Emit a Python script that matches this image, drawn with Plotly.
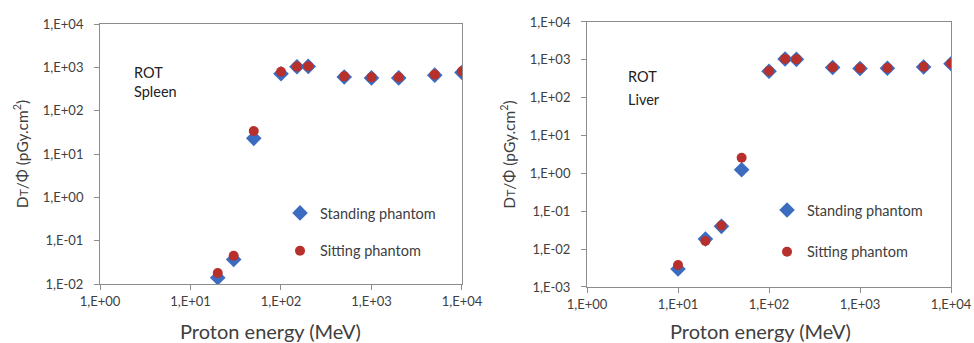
import plotly.graph_objects as go

# Data
energy_spleen = [20, 30, 50, 100, 150, 200, 500, 1000, 2000, 5000, 10000]
spleen_standing = [0.014, 0.037, 23, 710, 1030, 1050, 600, 570, 570, 660, 760]
spleen_sitting = [0.018, 0.045, 34, 790, 1040, 1060, 620, 590, 590, 680, 810]

energy_liver = [10, 20, 30, 50, 100, 150, 200, 500, 1000, 2000, 5000, 10000]
liver_standing = [0.0030, 0.0185, 0.040, 1.25, 500, 1050, 1030, 630, 590, 600, 650, 790]
liver_sitting = [0.0038, 0.0165, 0.042, 2.6, 510, 1060, 1040, 640, 600, 610, 660, 800]

x_tickvals = [1, 10, 100, 1000, 10000]
x_ticktext = ["1,E+00", "1,E+01", "1,E+02", "1,E+03", "1,E+04"]
y_tickvals_l = [0.01, 0.1, 1, 10, 100, 1000, 10000]
y_ticktext_l = ["1,E-02", "1,E-01", "1,E+00", "1,E+01", "1,E+02", "1,E+03", "1,E+04"]
y_tickvals_r = [0.001, 0.01, 0.1, 1, 10, 100, 1000, 10000]
y_ticktext_r = ["1,E-03", "1,E-02", "1,E-01", "1,E+00", "1,E+01", "1,E+02", "1,E+03", "1,E+04"]

BLUE = "#3b6cc0"
RED = "#b8302c"
FONT = "Lato"
TXT = "#404040"

W, H = 974, 343

fig = go.Figure()

def add_pair(x, ys, yt, xa, ya, leg):
    fig.add_trace(go.Scatter(x=x, y=ys, mode="markers", name="Standing phantom",
                             marker=dict(symbol="diamond", size=12, color=BLUE),
                             xaxis=xa, yaxis=ya, legend=leg, legendgroup=leg + "a"))
    fig.add_trace(go.Scatter(x=x, y=yt, mode="markers", name="Sitting phantom",
                             marker=dict(symbol="circle", size=10, color=RED),
                             xaxis=xa, yaxis=ya, legend=leg, legendgroup=leg + "b"))

add_pair(energy_spleen, spleen_standing, spleen_sitting, "x", "y", "legend")
add_pair(energy_liver, liver_standing, liver_sitting, "x2", "y2", "legend2")

axis_common = dict(type="log", showgrid=False, zeroline=False, showline=True,
                   linecolor="#8c8c8c", linewidth=1, mirror=True, automargin=False,
                   ticks="outside", ticklen=5, tickcolor="#8c8c8c",
                   tickfont=dict(family=FONT, size=13, color=TXT))

ytitle = "D<span style='font-size:12px'>T</span>/Φ (pGy.cm<sup>2</sup>)"
xtitle = "Proton energy (MeV)"
xtitle_font = dict(family=FONT, size=20, color=TXT)
ytitle_font = dict(family=FONT, size=15.5, color=TXT)

fig.update_layout(
    width=W, height=H,
    margin=dict(l=0, r=0, t=0, b=0),
    paper_bgcolor="white", plot_bgcolor="white",
    font=dict(family=FONT, color=TXT),
    xaxis=dict(axis_common, domain=[0.1027, 0.4743], range=[0, 4],
               tickvals=x_tickvals, ticktext=x_ticktext),
    yaxis=dict(axis_common, domain=[0.1720, 0.9300], range=[-2, 4],
               tickvals=y_tickvals_l, ticktext=y_ticktext_l, ticklabelstandoff=8,
               title=dict(text=ytitle, font=ytitle_font, standoff=10)),
    xaxis2=dict(axis_common, domain=[0.6027, 0.9764], range=[0, 4], anchor="y2",
                tickvals=x_tickvals, ticktext=x_ticktext),
    yaxis2=dict(axis_common, domain=[0.1633, 0.9359], range=[-3, 4], anchor="x2",
                tickvals=y_tickvals_r, ticktext=y_ticktext_r, ticklabelstandoff=8,
                title=dict(text=ytitle, font=ytitle_font, standoff=10)),
    legend=dict(x=0.2875, y=0.4257, xanchor="left", yanchor="top",
                bgcolor="rgba(0,0,0,0)", font=dict(family=FONT, size=14.5, color=TXT),
                tracegroupgap=16, traceorder="grouped", itemwidth=30),
    legend2=dict(x=0.7875, y=0.4344, xanchor="left", yanchor="top",
                 bgcolor="rgba(0,0,0,0)", font=dict(family=FONT, size=14.5, color=TXT),
                 tracegroupgap=20, traceorder="grouped", itemwidth=30),
    showlegend=True,
)

# x-axis titles (Excel centres them slightly left of the plot area)
fig.add_annotation(text=xtitle, x=0.2782, y=0.035, xref="paper", yref="paper",
                   xanchor="center", yanchor="middle", showarrow=False, font=xtitle_font)
fig.add_annotation(text=xtitle, x=0.7813, y=0.035, xref="paper", yref="paper",
                   xanchor="center", yanchor="middle", showarrow=False, font=xtitle_font)

fig.add_annotation(text="ROT<br>Spleen", x=0.1359, y=0.8204, xref="paper", yref="paper",
                   xanchor="left", yanchor="top", align="left", showarrow=False,
                   font=dict(family=FONT, size=14.5, color="#222"))
fig.add_annotation(text="ROT", x=0.6430, y=0.8076, xref="paper", yref="paper",
                   xanchor="left", yanchor="top", align="left", showarrow=False,
                   font=dict(family=FONT, size=14.5, color="#222"))
fig.add_annotation(text="Liver", x=0.6430, y=0.7405, xref="paper", yref="paper",
                   xanchor="left", yanchor="top", align="left", showarrow=False,
                   font=dict(family=FONT, size=14.5, color="#222"))

fig.write_html("out.html", config={"displayModeBar": False},
               post_script="document.body.style.margin='0';document.body.style.overflow='hidden';")
